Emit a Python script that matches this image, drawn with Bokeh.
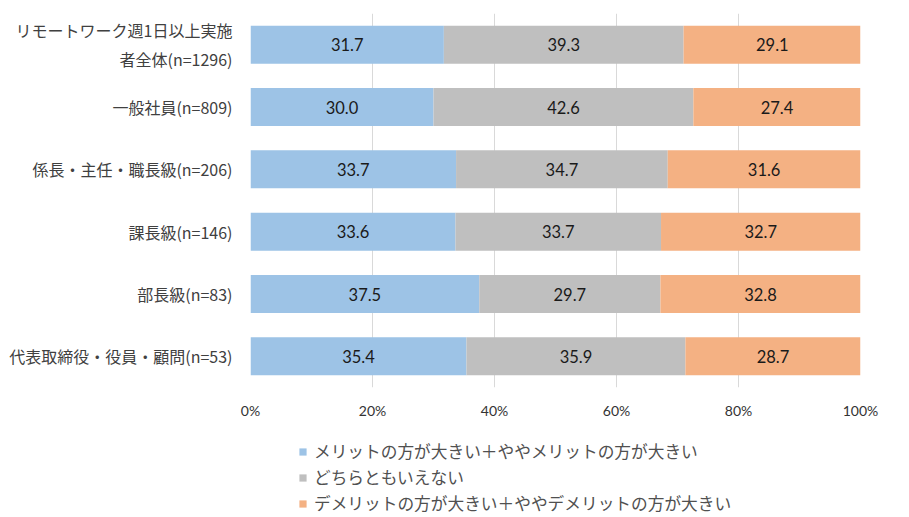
from bokeh.plotting import figure
from bokeh.layouts import column
from bokeh.models import (ColumnDataSource, Legend, LegendItem, FixedTicker, LabelSet,
                          FactorRange, Range1d)
from bokeh.embed import file_html
from bokeh.resources import INLINE
from bokeh.core.properties import value

categories = [
    "リモートワーク週1日以上実施\n者全体(n=1296)",
    "一般社員(n=809)",
    "係長・主任・職長級(n=206)",
    "課長級(n=146)",
    "部長級(n=83)",
    "代表取締役・役員・顧問(n=53)",
]
merit = [31.7, 30.0, 33.7, 33.6, 37.5, 35.4]
neutral = [39.3, 42.6, 34.7, 33.7, 29.7, 35.9]
demerit = [29.1, 27.4, 31.6, 32.7, 32.8, 28.7]
series_names = [
    "メリットの方が大きい＋ややメリットの方が大きい",
    "どちらともいえない",
    "デメリットの方が大きい＋ややデメリットの方が大きい",
]
colors = ["#9DC3E6", "#BFBFBF", "#F4B183"]
x_ticks = [0, 20, 40, 60, 80, 100]
x_tick_labels = ["0%", "20%", "40%", "60%", "80%", "100%"]

JP = "Noto Sans CJK JP"
NUM = "Lato"
keys = ["merit", "neutral", "demerit"]

src = ColumnDataSource(dict(cat=categories, merit=merit, neutral=neutral, demerit=demerit))

p = figure(
    y_range=list(reversed(categories)), x_range=(0, 100),
    width=909, height=432, output_backend="svg", toolbar_location=None,
    min_border_left=250, min_border_right=49, min_border_top=13, min_border_bottom=45,
)
p.y_range.range_padding = 0
p.outline_line_color = None

p.hbar_stack(keys, y="cat", height=0.61, color=colors, line_color=None, source=src)

# labels at segment centres
cum = [0.0] * len(categories)
for vals in (merit, neutral, demerit):
    mids = [c + v / 2 for c, v in zip(cum, vals)]
    cum = [c + v for c, v in zip(cum, vals)]
    lsrc = ColumnDataSource(dict(x=mids, y=categories, t=[f"{v:.1f}" for v in vals]))
    p.add_layout(LabelSet(x="x", y="y", text="t", source=lsrc, text_align="center",
                          text_baseline="middle", text_font=value(NUM),
                          text_font_size="16.5px", text_color="#1a1a1a"))

p.xaxis.ticker = FixedTicker(ticks=x_ticks)
p.xaxis.major_label_overrides = {t: l for t, l in zip(x_ticks, x_tick_labels)}
p.xaxis.axis_line_color = None
p.xaxis.major_tick_line_color = None
p.xaxis.minor_tick_line_color = None
p.xaxis.major_label_standoff = 8
p.xaxis.major_label_text_font = NUM
p.xaxis.major_label_text_font_size = "14px"
p.xaxis.major_label_text_color = "#333333"

p.yaxis.axis_line_color = None
p.yaxis.major_tick_line_color = None
p.yaxis.major_label_standoff = 12
p.yaxis.major_label_text_font = JP
p.yaxis.major_label_text_font_size = "16px"
p.yaxis.major_label_text_color = "#404040"

p.xgrid.grid_line_color = "#D9D9D9"
p.xgrid.ticker = FixedTicker(ticks=x_ticks)
p.ygrid.grid_line_color = None

# legend panel (frames are aligned horizontally with the main plot);
# proxy renderers of zero height whose data lies outside this panel's x range
lp = figure(width=909, height=85, output_backend="svg", toolbar_location=None,
            x_range=Range1d(-2, -1), y_range=FactorRange(factors=categories), min_border=0)
lp.axis.visible = False
lp.grid.visible = False
lp.outline_line_color = None
lrs = lp.hbar_stack(keys, y="cat", height=0, color=colors, line_color=None, source=src)

legend = Legend(
    items=[LegendItem(label=n, renderers=[r]) for n, r in zip(series_names, lrs)],
    orientation="vertical", location=(48, 2),
    label_text_font=JP, label_text_font_size="16.7px", label_text_color="#505050",
    glyph_width=9, glyph_height=9, label_standoff=7, spacing=2, label_height=17,
    border_line_color=None, background_fill_alpha=0, padding=0, margin=0,
)
lp.add_layout(legend, "center")

open("out.html", "w").write(file_html(column(p, lp, spacing=0), INLINE))
